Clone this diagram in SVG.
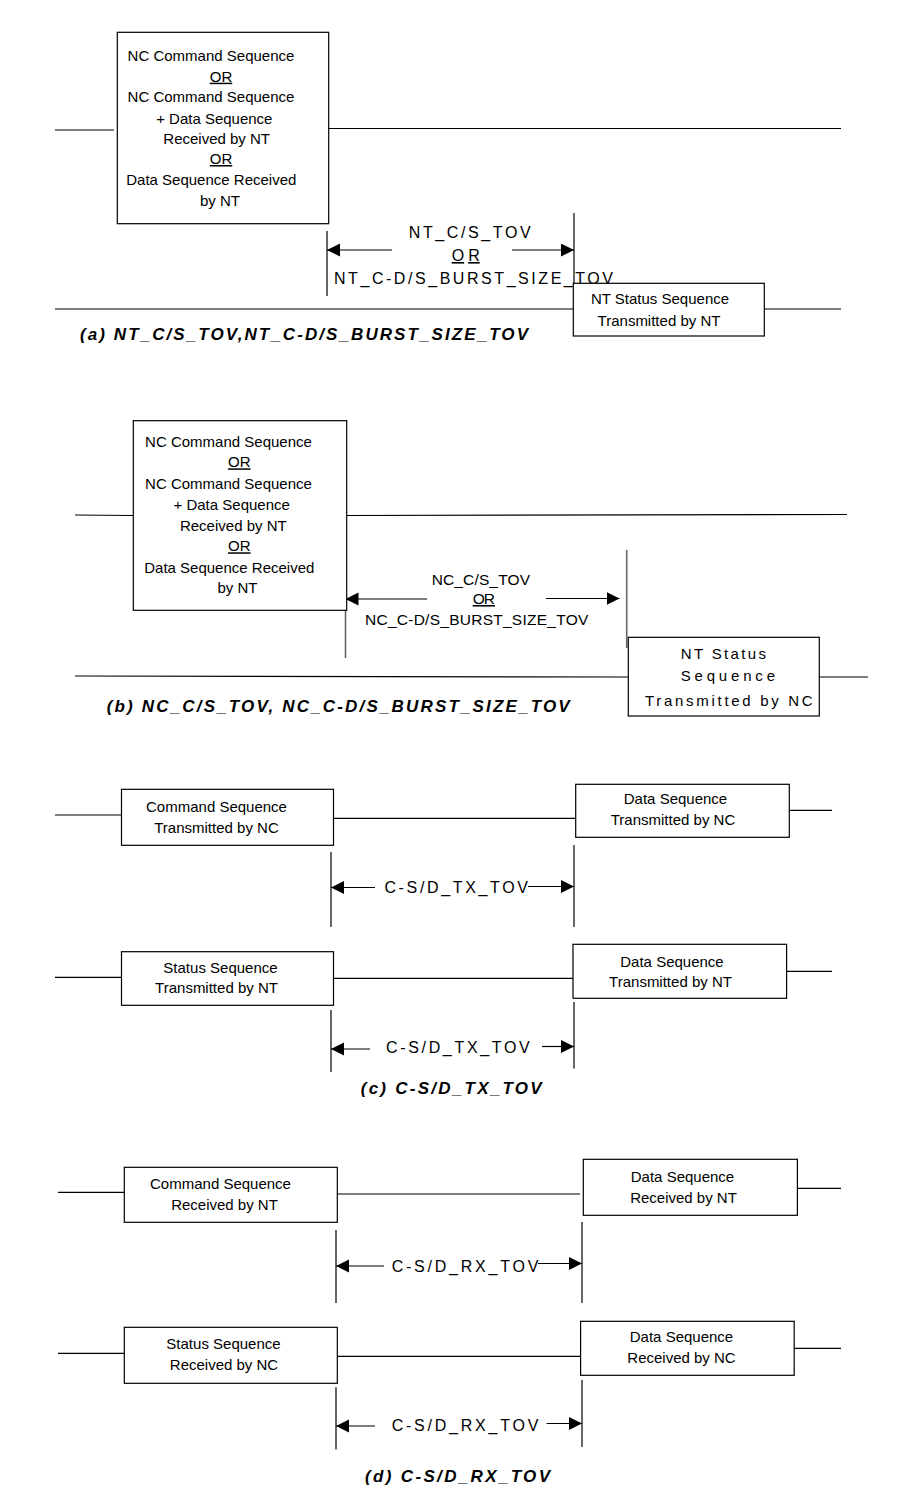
<svg xmlns="http://www.w3.org/2000/svg" width="924" height="1495" viewBox="0 0 924 1495">
<style>
  .bg{fill:#fff}
  .box{fill:#fff;stroke:#000;stroke-width:1.2}
  .ln{stroke:#000;stroke-width:1.2;fill:none}
  .gl{stroke:#666;stroke-width:1.6;fill:none}
  .t{font-family:"Liberation Sans",Arial,sans-serif;font-size:15px;fill:#000;text-anchor:middle}
  .lb{font-family:"Liberation Sans",Arial,sans-serif;font-size:16px;fill:#000}
  .cap{font-family:"Liberation Sans",Arial,sans-serif;font-size:17px;font-weight:bold;font-style:italic;fill:#000}
  .u{text-decoration:underline}
</style>
<defs>
  <marker id="ah" markerUnits="userSpaceOnUse" markerWidth="14" markerHeight="14" refX="13" refY="6.5" orient="auto">
    <path d="M0,0 L13,6.5 L0,13 z" fill="#000"/>
  </marker>
</defs>
<rect class="bg" x="0" y="0" width="924" height="1495"/>

<g id="connectors">
  <!-- (a) -->
  <line class="ln" x1="55" y1="130" x2="114" y2="130"/>
  <line class="ln" x1="329" y1="128.5" x2="841" y2="128.5"/>
  <line class="ln" x1="55" y1="309" x2="573" y2="309"/>
  <line class="ln" x1="764" y1="309" x2="841" y2="309"/>
  <line class="ln" x1="327" y1="231" x2="327" y2="296"/>
  <line class="ln" x1="574" y1="213" x2="574" y2="284"/>
  <line class="ln" x1="392" y1="250" x2="327" y2="250" marker-end="url(#ah)"/>
  <line class="ln" x1="512" y1="250" x2="574" y2="250" marker-end="url(#ah)"/>
  <!-- (b) -->
  <line class="ln" x1="75" y1="515" x2="133" y2="515.5"/>
  <line class="ln" x1="347" y1="515.5" x2="847" y2="514.5"/>
  <line class="ln" x1="75" y1="676" x2="628" y2="677"/>
  <line class="ln" x1="819" y1="677" x2="868" y2="677"/>
  <line class="gl" x1="345.5" y1="597" x2="345.5" y2="658"/>
  <line class="gl" x1="626.7" y1="550" x2="626.7" y2="648"/>
  <line class="ln" x1="427" y1="599" x2="345.5" y2="599" marker-end="url(#ah)"/>
  <line class="ln" x1="546" y1="598.5" x2="619.5" y2="598.5" marker-end="url(#ah)"/>
  <!-- (c) row 1 -->
  <line class="ln" x1="55" y1="815" x2="121.5" y2="815"/>
  <line class="ln" x1="333.5" y1="818.3" x2="576" y2="818.3"/>
  <line class="ln" x1="789" y1="810.3" x2="832" y2="810.3"/>
  <line class="ln" x1="331" y1="852" x2="331" y2="927"/>
  <line class="ln" x1="574" y1="845" x2="574" y2="927"/>
  <line class="ln" x1="375" y1="887.5" x2="331" y2="887.5" marker-end="url(#ah)"/>
  <line class="ln" x1="528" y1="886.5" x2="574" y2="886.5" marker-end="url(#ah)"/>
  <!-- (c) row 2 -->
  <line class="ln" x1="55" y1="977.3" x2="121.5" y2="977.3"/>
  <line class="ln" x1="333.5" y1="978.3" x2="573" y2="978.3"/>
  <line class="ln" x1="786.6" y1="971.3" x2="832" y2="971.3"/>
  <line class="ln" x1="331" y1="1010" x2="331" y2="1072"/>
  <line class="ln" x1="574" y1="1002" x2="574" y2="1068.5"/>
  <line class="ln" x1="370" y1="1049" x2="331" y2="1049" marker-end="url(#ah)"/>
  <line class="ln" x1="542" y1="1046.5" x2="574" y2="1046.5" marker-end="url(#ah)"/>
  <!-- (d) row 1 -->
  <line class="ln" x1="58" y1="1192.3" x2="124.3" y2="1192.3"/>
  <line class="ln" x1="337.3" y1="1194" x2="580" y2="1194"/>
  <line class="ln" x1="797.4" y1="1188.3" x2="841" y2="1188.3"/>
  <line class="ln" x1="336" y1="1230" x2="336" y2="1303"/>
  <line class="ln" x1="582" y1="1222" x2="582" y2="1303"/>
  <line class="ln" x1="384" y1="1266" x2="336" y2="1266" marker-end="url(#ah)"/>
  <line class="ln" x1="538" y1="1263.5" x2="582" y2="1263.5" marker-end="url(#ah)"/>
  <!-- (d) row 2 -->
  <line class="ln" x1="58" y1="1353.3" x2="124.3" y2="1353.3"/>
  <line class="ln" x1="337.3" y1="1356.3" x2="580.6" y2="1356.3"/>
  <line class="ln" x1="794.2" y1="1348.3" x2="841" y2="1348.3"/>
  <line class="ln" x1="336" y1="1387.3" x2="336" y2="1449.5"/>
  <line class="ln" x1="582" y1="1380" x2="582" y2="1447"/>
  <line class="ln" x1="375" y1="1426" x2="336" y2="1426" marker-end="url(#ah)"/>
  <line class="ln" x1="546.5" y1="1423.5" x2="582" y2="1423.5" marker-end="url(#ah)"/>
</g>

<g id="labels">
  <text class="lb" x="408.7" y="238.3" textLength="122" lengthAdjust="spacing">NT_C/S_TOV</text>
  <text class="lb u" x="451.7" y="261" textLength="28" lengthAdjust="spacing">OR</text>
  <text class="lb" x="334" y="284.3" textLength="279" lengthAdjust="spacing">NT_C-D/S_BURST_SIZE_TOV</text>
  <text class="lb" x="431.7" y="585" textLength="98.3" lengthAdjust="spacing" style="font-size:15.5px">NC_C/S_TOV</text>
  <text class="lb u" x="472.7" y="604" textLength="22.3" lengthAdjust="spacing" style="font-size:15.5px">OR</text>
  <text class="lb" x="365" y="625" textLength="223.3" lengthAdjust="spacing" style="font-size:15.5px">NC_C-D/S_BURST_SIZE_TOV</text>
  <text class="lb" x="384.4" y="892.7" textLength="143.6" lengthAdjust="spacing">C-S/D_TX_TOV</text>
  <text class="lb" x="386" y="1053.3" textLength="143.7" lengthAdjust="spacing">C-S/D_TX_TOV</text>
  <text class="lb" x="391.7" y="1272" textLength="146.6" lengthAdjust="spacing">C-S/D_RX_TOV</text>
  <text class="lb" x="391.7" y="1430.7" textLength="146.6" lengthAdjust="spacing">C-S/D_RX_TOV</text>
  <text class="cap" x="80" y="340" textLength="448" lengthAdjust="spacing">(a)  NT_C/S_TOV,NT_C-D/S_BURST_SIZE_TOV</text>
  <text class="cap" x="106.7" y="711.7" textLength="463" lengthAdjust="spacing">(b)  NC_C/S_TOV, NC_C-D/S_BURST_SIZE_TOV</text>
  <text class="cap" x="360.7" y="1094" textLength="181" lengthAdjust="spacing">(c)  C-S/D_TX_TOV</text>
  <text class="cap" x="365" y="1481.7" textLength="185" lengthAdjust="spacing">(d)  C-S/D_RX_TOV</text>
</g>

<g id="a-box1">
  <rect class="box" x="117.3" y="32.3" width="211.4" height="191.4"/>
  <text class="t" x="211" y="61">NC Command Sequence</text>
  <text class="t u" x="221" y="81.7">OR</text>
  <text class="t" x="211" y="102.3">NC Command Sequence</text>
  <text class="t" x="214.3" y="123.7">+ Data Sequence</text>
  <text class="t" x="216.7" y="144.3">Received by NT</text>
  <text class="t u" x="221" y="164">OR</text>
  <text class="t" x="211.3" y="185.3">Data Sequence Received</text>
  <text class="t" x="220" y="205.7">by NT</text>
</g>
<g id="a-box2">
  <rect class="box" x="573.3" y="283.3" width="191" height="52.7"/>
  <text class="t" x="660" y="304.3">NT Status Sequence</text>
  <text class="t" x="659" y="325.7">Transmitted by NT</text>
</g>

<g id="b-box1">
  <rect class="box" x="133.3" y="420.7" width="213.4" height="189.6"/>
  <text class="t" x="228.5" y="446.7">NC Command Sequence</text>
  <text class="t u" x="239.3" y="467.3">OR</text>
  <text class="t" x="228.5" y="488.7">NC Command Sequence</text>
  <text class="t" x="231.7" y="510">+ Data Sequence</text>
  <text class="t" x="233.3" y="530.7">Received by NT</text>
  <text class="t u" x="239.3" y="551.3">OR</text>
  <text class="t" x="229.3" y="572.7">Data Sequence Received</text>
  <text class="t" x="237.5" y="593.3">by NT</text>
</g>
<g id="b-box2">
  <rect class="box" x="628.3" y="637.3" width="191" height="78.7"/>
  <text class="t" x="680.7" y="659" style="text-anchor:start" textLength="85.3" lengthAdjust="spacing">NT Status</text>
  <text class="t" x="680.7" y="681" style="text-anchor:start" textLength="94.3" lengthAdjust="spacing">Sequence</text>
  <text class="t" x="645" y="705.7" style="text-anchor:start" textLength="167.7" lengthAdjust="spacing">Transmitted by NC</text>
</g>

<g id="c-box1">
  <rect class="box" x="121.5" y="789.3" width="212" height="56"/>
  <text class="t" x="216.5" y="811.7">Command Sequence</text>
  <text class="t" x="216.5" y="832.7">Transmitted by NC</text>
</g>
<g id="c-box2">
  <rect class="box" x="575.7" y="784.3" width="213.6" height="53"/>
  <text class="t" x="675.5" y="804.3">Data Sequence</text>
  <text class="t" x="673" y="825">Transmitted by NC</text>
</g>
<g id="c-box3">
  <rect class="box" x="121.5" y="951.7" width="212" height="53.6"/>
  <text class="t" x="220.5" y="972.7">Status Sequence</text>
  <text class="t" x="216.5" y="993.3">Transmitted by NT</text>
</g>
<g id="c-box4">
  <rect class="box" x="573" y="944.3" width="213.6" height="54"/>
  <text class="t" x="672" y="966.7">Data Sequence</text>
  <text class="t" x="670.5" y="987.3">Transmitted by NT</text>
</g>

<g id="d-box1">
  <rect class="box" x="124.3" y="1167.3" width="213" height="55"/>
  <text class="t" x="220.5" y="1189.3">Command Sequence</text>
  <text class="t" x="224.5" y="1210">Received by NT</text>
</g>
<g id="d-box2">
  <rect class="box" x="583.3" y="1159.3" width="214.1" height="56"/>
  <text class="t" x="682.5" y="1182.3">Data Sequence</text>
  <text class="t" x="683.5" y="1203.3">Received by NT</text>
</g>
<g id="d-box3">
  <rect class="box" x="124.3" y="1327.3" width="213" height="56"/>
  <text class="t" x="223.5" y="1349.3">Status Sequence</text>
  <text class="t" x="224" y="1370">Received by NC</text>
</g>
<g id="d-box4">
  <rect class="box" x="580.6" y="1321.3" width="213.6" height="54"/>
  <text class="t" x="681.5" y="1342.3">Data Sequence</text>
  <text class="t" x="681.5" y="1363.3">Received by NC</text>
</g>
</svg>
